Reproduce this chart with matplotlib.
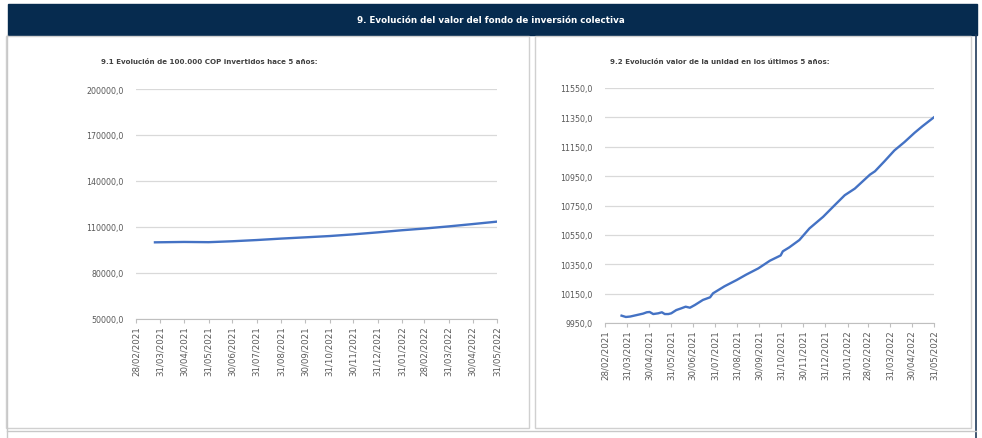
import matplotlib
matplotlib.use("Agg")
import matplotlib.pyplot as plt
import matplotlib.dates as mdates
import pandas as pd
from matplotlib.patches import Rectangle
from matplotlib.ticker import FuncFormatter

plt.rcParams['font.family'] = ['Liberation Sans Narrow', 'DejaVu Sans']

# 9.1 value of 100.000 COP invested
inv_dates = ['2021-03-24', '2021-04-30', '2021-05-31', '2021-06-30', '2021-07-31',
             '2021-08-31', '2021-09-30', '2021-10-31', '2021-11-30', '2021-12-31',
             '2022-01-31', '2022-02-28', '2022-03-31', '2022-04-30', '2022-05-31']
inv_values = [100000, 100250, 100100, 100700, 101500, 102450, 103250, 104100,
              105200, 106500, 107900, 109000, 110400, 111900, 113500]

# 9.2 unit value
unit_dates = ['2021-03-23', '2021-03-29', '2021-04-04', '2021-04-13', '2021-04-22',
              '2021-04-27', '2021-05-01', '2021-05-06', '2021-05-13', '2021-05-18',
              '2021-05-22', '2021-05-27', '2021-05-31', '2021-06-07', '2021-06-14',
              '2021-06-20', '2021-06-26', '2021-07-03', '2021-07-14', '2021-07-24',
              '2021-07-28', '2021-08-13', '2021-08-30', '2021-09-12', '2021-09-29',
              '2021-10-15', '2021-10-30', '2021-11-02', '2021-11-11', '2021-11-25',
              '2021-12-09', '2021-12-28', '2022-01-13', '2022-01-27', '2022-02-10',
              '2022-03-03', '2022-03-10', '2022-03-23', '2022-04-06', '2022-04-20',
              '2022-05-04', '2022-05-15', '2022-05-31']
unit_values = [10000, 9991, 9994, 10004, 10014, 10023, 10025, 10011, 10016, 10023,
               10011, 10011, 10016, 10038, 10050, 10061, 10054, 10073, 10107, 10125,
               10152, 10200, 10243, 10279, 10322, 10374, 10410, 10438, 10465, 10515,
               10594, 10673, 10752, 10820, 10865, 10960, 10983, 11050, 11125, 11182,
               11245, 11290, 11351]

inv_ticks = [50000, 80000, 110000, 140000, 170000, 200000]
unit_ticks = [9950, 10150, 10350, 10550, 10750, 10950, 11150, 11350, 11550]
tick_dates = pd.date_range('2021-02-28', '2022-05-31', freq='ME')

W, H = 982, 439
fig = plt.figure(figsize=(W / 100, H / 100), dpi=100)

# background boxes in pixel coords
bg = fig.add_axes([0, 0, 1, 1])
bg.set_xlim(0, W)
bg.set_ylim(H, 0)
bg.axis('off')
bg.add_patch(Rectangle((8, 5), 969, 31, color='#062b4f'))
bg.plot([976.5, 976.5], [36, H], color='#1f3a5a', lw=1.2)
bg.plot([7, 7], [36, H], color='#c8c8c8', lw=1)
bg.plot([7, 976], [432, 432], color='#c8c8c8', lw=1)
bg.add_patch(Rectangle((6, 37), 523, 392, fill=False, ec='#d0d0d0', lw=1))
bg.add_patch(Rectangle((535, 37), 436, 392, fill=False, ec='#d0d0d0', lw=1))
bg.text(491, 20.5, '9. Evolución del valor del fondo de inversión colectiva',
        color='white', fontsize=6.3, fontweight='bold', ha='center', va='center')
bg.text(101, 62, '9.1 Evolución de 100.000 COP invertidos hace 5 años:',
        color='#404040', fontsize=5.1, fontweight='bold', va='center')
bg.text(610, 62, '9.2 Evolución valor de la unidad en los últimos 5 años:',
        color='#404040', fontsize=5.1, fontweight='bold', va='center')


def make_ax(x0, x1, y0, y1):
    return fig.add_axes([x0 / W, (H - y1) / H, (x1 - x0) / W, (y1 - y0) / H])


fmt = FuncFormatter(lambda v, p: f'{v:.1f}'.replace('.', ','))


def style(ax, yticks):
    ax.set_xlim(pd.Timestamp('2021-02-28'), pd.Timestamp('2022-05-31'))
    ax.set_ylim(yticks[0], yticks[-1])
    ax.set_yticks(yticks)
    ax.yaxis.set_major_formatter(fmt)
    ax.set_xticks(tick_dates)
    ax.xaxis.set_major_formatter(mdates.DateFormatter('%d/%m/%Y'))
    for s in ['top', 'right', 'left']:
        ax.spines[s].set_visible(False)
    ax.spines['bottom'].set_color('#bfbfbf')
    ax.grid(axis='y', color='#d9d9d9', lw=0.9)
    ax.set_axisbelow(True)
    ax.tick_params(axis='y', length=0, pad=9, labelsize=5.7, labelcolor='#595959')
    ax.tick_params(axis='x', length=3, width=0.8, color='#bfbfbf', pad=1.5,
                   labelsize=6.2, labelcolor='#595959', labelrotation=90)


ax1 = make_ax(136, 497, 90, 320)
ax1.plot(pd.to_datetime(inv_dates), inv_values, color='#4472c4', lw=1.7)
style(ax1, inv_ticks)

ax2 = make_ax(605, 934, 89, 324)
ax2.plot(pd.to_datetime(unit_dates), unit_values, color='#4472c4', lw=1.7)
style(ax2, unit_ticks)

fig.savefig('out.png', dpi=100)
